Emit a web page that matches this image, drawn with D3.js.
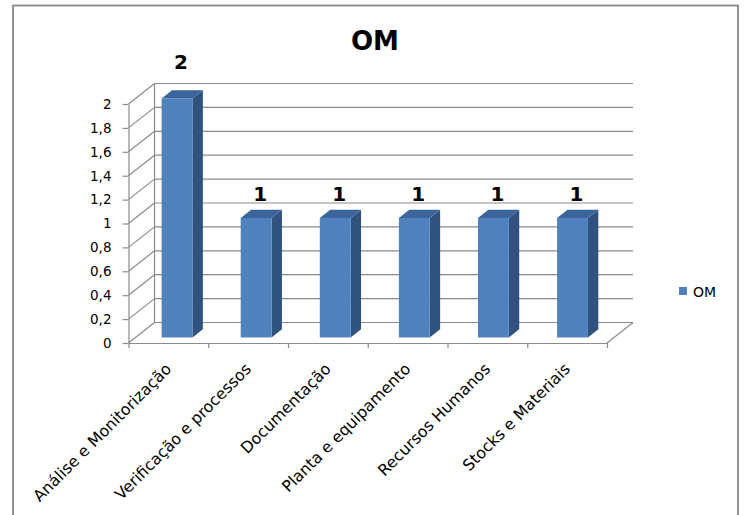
<!DOCTYPE html>
<meta charset="utf-8">
<style>
body { margin: 0; background: #fff; }
text { font-family: "DejaVu Sans", sans-serif; fill: #000; }
.grid line { stroke: #8a8a8a; stroke-width: 1.2; }
.axis path, .axis line { stroke: #8a8a8a; stroke-width: 1.2; }
</style>
<svg width="744" height="515"></svg>
<script src="https://cdn.jsdelivr.net/npm/d3@7/dist/d3.min.js"></script>
<script>

var categories = ["Análise e Monitorização", "Verificação e processos", "Documentação",
                  "Planta e equipamento", "Recursos Humanos", "Stocks e Materiais"];
var values = [2, 1, 1, 1, 1, 1];
var seriesName = "OM";
var yTicks = [0, 0.2, 0.4, 0.6, 0.8, 1, 1.2, 1.4, 1.6, 1.8, 2];
var yTickLabels = ["0", "0,2", "0,4", "0,6", "0,8", "1", "1,2", "1,4", "1,6", "1,8", "2"];

var svg = d3.select("svg");

// 3d depth of the wall / floor, bar sits between 27% and 67% of it
var depth = {dx: 26, dy: -20.5},
    barFront = 0.27,
    barBack = 0.67;

var x = d3.scaleBand()
    .domain(categories)
    .range([128.5, 607])
    .paddingInner(0.61)
    .paddingOuter(0.33);

var y = d3.scaleLinear()
    .domain([0, 2])
    .range([343, 104]);

var x0 = x.range()[0], x1 = x.range()[1];

// chart border
svg.append("rect")
    .attr("x", 13).attr("y", 5.5)
    .attr("width", 725).attr("height", 540)
    .attr("fill", "none")
    .attr("stroke", "#878787")
    .attr("stroke-width", 1.8);

// title
svg.append("text")
    .attr("x", 375)
    .attr("y", 50)
    .attr("text-anchor", "middle")
    .attr("font-weight", "bold")
    .attr("font-size", 26)
    .text(seriesName);

// back wall gridlines + side wall diagonals
var grid = svg.append("g").attr("class", "grid");

grid.selectAll(".back")
  .data(yTicks)
  .enter().append("line")
    .attr("x1", x0 + depth.dx)
    .attr("x2", x1 + depth.dx)
    .attr("y1", function(d) { return y(d) + depth.dy; })
    .attr("y2", function(d) { return y(d) + depth.dy; });

grid.selectAll(".side")
  .data(yTicks)
  .enter().append("line")
    .attr("x1", x0)
    .attr("x2", x0 + depth.dx)
    .attr("y1", function(d) { return y(d); })
    .attr("y2", function(d) { return y(d) + depth.dy; });

grid.append("line")
    .attr("x1", x0 + depth.dx).attr("x2", x0 + depth.dx)
    .attr("y1", y(0) + depth.dy).attr("y2", y(2) + depth.dy);

grid.append("line")
    .attr("x1", x1).attr("x2", x1 + depth.dx)
    .attr("y1", y(0)).attr("y2", y(0) + depth.dy);

// y axis
var yAxis = d3.axisLeft(y)
    .tickValues(yTicks)
    .tickFormat(function(d, i) { return yTickLabels[i]; })
    .tickSize(6)
    .tickSizeOuter(0)
    .tickPadding(11);

svg.append("g")
    .attr("class", "axis")
    .attr("transform", "translate(" + x0 + ",0)")
    .call(yAxis)
    .call(function(g) { g.selectAll("text").attr("font-size", 13.5).attr("font-family", "DejaVu Sans"); });

// x axis: ticks on category edges
var xEdge = d3.scaleLinear().domain([0, categories.length]).range([x0, x1]);
svg.append("g")
    .attr("class", "axis")
    .attr("transform", "translate(0," + y(0) + ")")
    .call(d3.axisBottom(xEdge)
      .tickValues(d3.range(categories.length + 1))
      .tickFormat("")
      .tickSize(5)
      .tickSizeOuter(0));

svg.selectAll(".xlabel")
  .data(categories)
  .enter().append("text")
    .attr("class", "xlabel")
    .attr("text-anchor", "end")
    .attr("font-size", 15.8)
    .attr("transform", function(d, i) {
      var c = xEdge(i + 0.5);
      return "translate(" + (c + 4) + ",370) rotate(-45)";
    })
    .text(function(d) { return d; });

// bars
var bw = x.bandwidth(),
    fx = depth.dx * barFront, fy = depth.dy * barFront,
    ddx = depth.dx * (barBack - barFront), ddy = depth.dy * (barBack - barFront);

var bars = svg.selectAll(".bar")
  .data(values)
  .enter().append("g")
    .attr("class", "bar");

bars.append("path")
    .attr("fill", "#30527e")
    .attr("d", function(d, i) {
      var xr = x(categories[i]) + fx + bw, yt = y(d) + fy, yb = y(0) + fy;
      return "M" + xr + "," + yt + "L" + (xr + ddx) + "," + (yt + ddy) +
             "L" + (xr + ddx) + "," + (yb + ddy) + "L" + xr + "," + yb + "Z";
    });

bars.append("path")
    .attr("fill", "#3b659a")
    .attr("d", function(d, i) {
      var xl = x(categories[i]) + fx, xr = xl + bw, yt = y(d) + fy;
      return "M" + xl + "," + yt + "L" + (xl + ddx) + "," + (yt + ddy) +
             "L" + (xr + ddx) + "," + (yt + ddy) + "L" + xr + "," + yt + "Z";
    });

bars.append("rect")
    .attr("fill", "#4f81bd")
    .attr("x", function(d, i) { return x(categories[i]) + fx; })
    .attr("y", function(d) { return y(d) + fy; })
    .attr("width", bw)
    .attr("height", function(d) { return y(0) - y(d); });

// data labels
svg.selectAll(".vlabel")
  .data(values)
  .enter().append("text")
    .attr("class", "vlabel")
    .attr("text-anchor", "middle")
    .attr("font-weight", "bold")
    .attr("font-size", 20)
    .attr("x", function(d, i) { return x(categories[i]) + fx + bw / 2 + 4; })
    .attr("y", function(d) { return y(d * 1.1) - 18 + 7; })
    .text(function(d) { return d; });

// legend
svg.append("rect")
    .attr("x", 679).attr("y", 287)
    .attr("width", 8).attr("height", 8)
    .attr("fill", "#4f81bd");

svg.append("text")
    .attr("x", 693)
    .attr("y", 296.5)
    .attr("font-size", 14)
    .text(seriesName);

</script>
